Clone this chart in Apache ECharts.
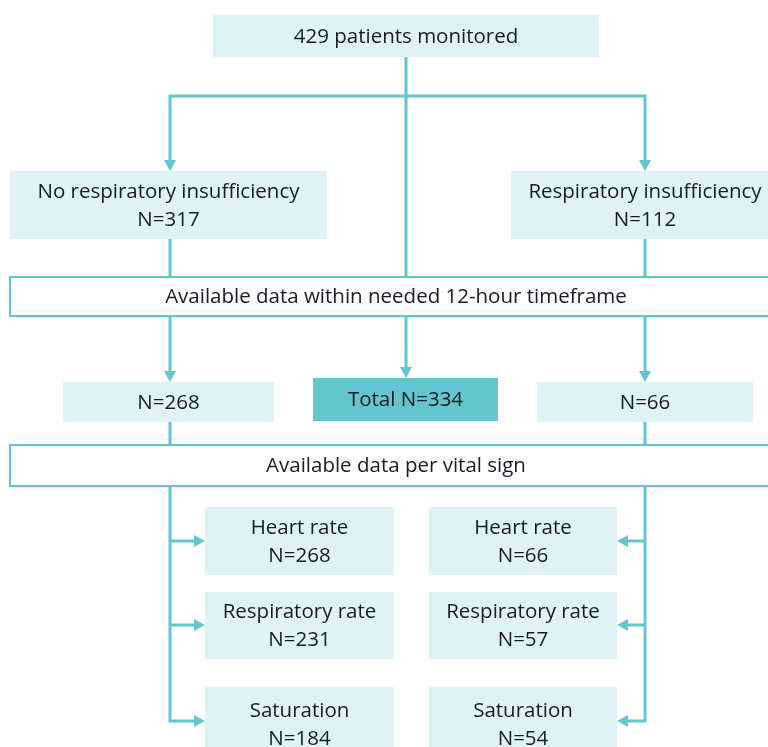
<!DOCTYPE html>
<html>
<head>
<meta charset="utf-8">
<script src="https://cdn.jsdelivr.net/npm/echarts@6/dist/echarts.min.js"></script>
<style>
  html, body { margin: 0; padding: 0; background: #fff; }
  #flow { width: 768px; height: 747px; }
</style>
</head>
<body>
<div id="flow"></div>
<script>
  // data
  const topLabel = '429 patients monitored'
  const groupNames = ['No respiratory insufficiency', 'Respiratory insufficiency']
  const groupN = [317, 112]
  const stepLabels = ['Available data within needed 12-hour timeframe', 'Available data per vital sign']
  const availableN = [268, 66]
  const totalN = 334
  const vitalSigns = ['Heart rate', 'Respiratory rate', 'Saturation']
  const vitalNNoResp = [268, 231, 184]
  const vitalNResp = [66, 57, 54]

  // layout (pixel-like axis units)
  const colX = [170, 406, 645]
  const vitalRowsY = [[507, 575], [592, 659], [687, 762]]
  const arrowY = [541, 625, 721]

  const lightFill = '#dff2f6'
  const teal = '#63c6ce'
  const textColor = '#1a1a28'
  const font = '"Open Sans", "DejaVu Sans", sans-serif'

  var boxes = [
    { r: [213, 15, 599, 57], text: topLabel, kind: 'light' },
    { r: [10, 171, 327, 239], text: groupNames[0] + '\nN=' + groupN[0], kind: 'light' },
    { r: [511, 171, 779, 239], text: groupNames[1] + '\nN=' + groupN[1], kind: 'light' },
    { r: [10, 277, 782, 316], text: stepLabels[0], kind: 'outline' },
    { r: [63, 382, 274, 422], text: 'N=' + availableN[0], kind: 'light' },
    { r: [313, 378, 498, 421], text: 'Total N=' + totalN, kind: 'dark' },
    { r: [537, 382, 753, 422], text: 'N=' + availableN[1], kind: 'light' },
    { r: [10, 445, 782, 486], text: stepLabels[1], kind: 'outline' }
  ]
  vitalSigns.forEach(function (v, i) {
    var ry = vitalRowsY[i]
    boxes.push({ r: [205, ry[0], 394, ry[1]], text: v + '\nN=' + vitalNNoResp[i], kind: 'light' })
    boxes.push({ r: [429, ry[0], 617, ry[1]], text: v + '\nN=' + vitalNResp[i], kind: 'light' })
  })

  // connectors: list of points, arrow at the end or not
  var links = [
    { p: [[colX[1], 57], [colX[1], 277]], arrow: false },
    { p: [[colX[1], 96], [colX[0], 96], [colX[0], 171]], arrow: true },
    { p: [[colX[1], 96], [colX[2], 96], [colX[2], 171]], arrow: true },
    { p: [[colX[0], 239], [colX[0], 277]], arrow: false },
    { p: [[colX[2], 239], [colX[2], 277]], arrow: false },
    { p: [[colX[0], 316], [colX[0], 382]], arrow: true },
    { p: [[colX[1], 316], [colX[1], 378]], arrow: true },
    { p: [[colX[2], 316], [colX[2], 382]], arrow: true },
    { p: [[colX[0], 422], [colX[0], 445]], arrow: false },
    { p: [[colX[2], 422], [colX[2], 445]], arrow: false },
    { p: [[colX[0], 486], [colX[0], arrowY[2]], [205, arrowY[2]]], arrow: true },
    { p: [[colX[2], 486], [colX[2], arrowY[2]], [617, arrowY[2]]], arrow: true }
  ]
  arrowY.slice(0, 2).forEach(function (y) {
    links.push({ p: [[colX[0], y], [205, y]], arrow: true })
    links.push({ p: [[colX[2], y], [617, y]], arrow: true })
  })

  var myChart = echarts.init(document.getElementById('flow'))
  var option = {
    animation: false,
    grid: { left: 0, right: 0, top: 0, bottom: 0 },
    xAxis: { type: 'value', min: 0, max: 768, show: false },
    yAxis: { type: 'value', min: 0, max: 747, inverse: true, show: false },
    series: [{
      type: 'custom',
      z: 2,
      data: boxes.map(function (b) { return b.r }),
      renderItem: function (params, api) {
        var b = boxes[params.dataIndex]
        var p0 = api.coord([b.r[0], b.r[1]])
        var p1 = api.coord([b.r[2], b.r[3]])
        var fill = b.kind === 'light' ? lightFill : (b.kind === 'dark' ? teal : '#ffffff')
        return {
          type: 'rect',
          shape: { x: p0[0], y: p0[1], width: p1[0] - p0[0], height: p1[1] - p0[1] },
          style: {
            fill: fill,
            stroke: b.kind === 'outline' ? teal : null,
            lineWidth: b.kind === 'outline' ? 2 : 0
          },
          textContent: {
            style: {
              text: b.text,
              fill: textColor,
              fontSize: 20.5,
              fontFamily: font,
              lineHeight: 28,
              align: 'center',
              verticalAlign: 'middle'
            }
          },
          textConfig: { position: 'inside', offset: [0, 1] }
        }
      }
    }, {
      type: 'custom',
      z: 1,
      data: links.map(function (l) { return l.p[0] }),
      renderItem: function (params, api) {
        var l = links[params.dataIndex]
        var pts = l.p.map(function (pt) { return api.coord(pt) })
        var children = []
        if (l.arrow) {
          var P = pts[pts.length - 1], Q = pts[pts.length - 2]
          var dx = P[0] - Q[0], dy = P[1] - Q[1]
          var len = Math.sqrt(dx * dx + dy * dy)
          dx /= len; dy /= len
          var L = 11, h = 6
          var B = [P[0] - dx * L, P[1] - dy * L]
          pts[pts.length - 1] = [B[0] + dx, B[1] + dy]
          children.push({
            type: 'polygon',
            shape: { points: [P, [B[0] - dy * h, B[1] + dx * h], [B[0] + dy * h, B[1] - dx * h]] },
            style: { fill: teal }
          })
        }
        children.unshift({
          type: 'polyline',
          shape: { points: pts },
          style: { stroke: teal, lineWidth: 3, fill: null }
        })
        return { type: 'group', children: children }
      }
    }]
  }
  option && myChart.setOption(option)
  window.addEventListener('resize', myChart.resize)
</script>
</body>
</html>
